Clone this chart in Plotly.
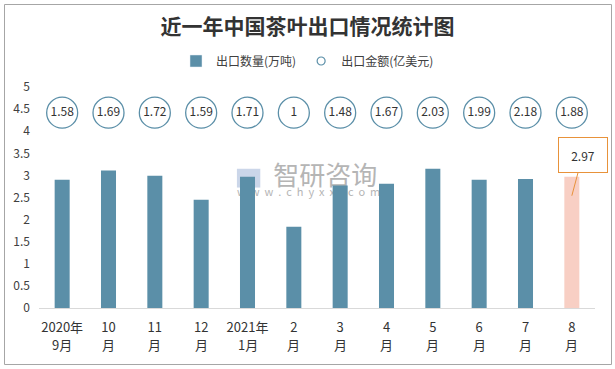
import plotly.graph_objects as go

cat_line1 = ["2020年", "10", "11", "12", "2021年", "2", "3", "4", "5", "6", "7", "8"]
cat_line2 = ["9月", "月", "月", "月", "1月", "月", "月", "月", "月", "月", "月", "月"]
volume = [2.90, 3.11, 2.99, 2.45, 2.97, 1.84, 2.77, 2.81, 3.15, 2.90, 2.92, 2.97]
amount = [1.58, 1.69, 1.72, 1.59, 1.71, 1, 1.48, 1.67, 2.03, 1.99, 2.18, 1.88]
y_ticks = [0, 0.5, 1, 1.5, 2, 2.5, 3, 3.5, 4, 4.5, 5]
bubble_row = 4.42

categories = [f"{a}|{b}" for a, b in zip(cat_line1, cat_line2)]

FONT = "Noto Sans CJK SC"
BLUE = "#5b8fa8"
PINK = "#f8cfc4"
ORANGE = "#e8923a"
TXT = "#404040"

bar_colors = [BLUE] * (len(volume) - 1) + [PINK]

fig = go.Figure()
fig.add_trace(go.Bar(
    x=categories, y=volume, name="出口数量(万吨)",
    marker=dict(color=bar_colors, line=dict(width=0)),
    showlegend=False,
))
fig.add_trace(go.Scatter(
    x=categories, y=[bubble_row] * len(amount), mode="markers+text",
    text=[str(v) for v in amount], textposition="middle center",
    textfont=dict(family=FONT, size=12, color="#333333"),
    marker=dict(symbol="circle", size=31, color="white",
                line=dict(color=BLUE, width=1.3)),
    showlegend=False, hoverinfo="skip",
))
# legend entries
fig.add_trace(go.Bar(x=[None], y=[None], name="出口数量(万吨)",
                     marker=dict(color=BLUE)))
fig.add_trace(go.Scatter(x=[None], y=[None], mode="markers", name="出口金额(亿美元)",
                         marker=dict(symbol="circle-open", size=8,
                                     color=BLUE, line=dict(width=1.2))))

# second line of the x labels
for c, t in zip(categories, cat_line2):
    fig.add_annotation(x=c, y=0, yref="y", text=t, showarrow=False,
                       yanchor="top", yshift=-25,
                       font=dict(family=FONT, size=13, color="#333333"))

fig.add_annotation(
    x=categories[-1], y=volume[-1], text=str(volume[-1]),
    showarrow=True, arrowhead=0, arrowwidth=1, arrowcolor=ORANGE,
    ax=11, ay=-41, yshift=-19,
    bordercolor=ORANGE, borderwidth=1, borderpad=2, bgcolor="white",
    width=44, height=30,
    font=dict(family=FONT, size=12, color="#333333"),
)

# watermark (behind bars)
fig.add_shape(type="rect", xref="paper", yref="paper",
              x0=0.39, x1=0.64, y0=0.55, y1=0.63, layer="below",
              line=dict(width=0), fillcolor="rgba(0,0,0,0)",
              label=dict(text="智研咨询", font=dict(family=FONT, size=26, color="#b5b5b5")))
fig.add_shape(type="rect", xref="paper", yref="paper",
              x0=0.33, x1=0.64, y0=0.49, y1=0.55, layer="below",
              line=dict(width=0), fillcolor="rgba(0,0,0,0)",
              label=dict(text="w  w  w  .  c  h  y  x  x  .  c  o  m",
                         font=dict(family=FONT, size=11, color="#b5b5b5")))
fig.add_shape(type="rect", xref="paper", yref="paper",
              x0=0.356, x1=0.398, y0=0.545, y1=0.63, layer="below",
              line=dict(width=0), fillcolor="rgba(160,180,215,0.55)")

# outer border
fig.add_shape(type="rect", xref="paper", yref="paper",
              x0=(4.5 - 39) / 556, x1=(611.5 - 39) / 556,
              y0=(308 - 364.5) / 221, y1=(308 - 4.5) / 221,
              line=dict(color="#a6a6a6", width=1), fillcolor="rgba(0,0,0,0)")

fig.update_layout(
    width=615, height=369,
    margin=dict(l=39, r=20, t=87, b=61, autoexpand=False),
    paper_bgcolor="white", plot_bgcolor="white",
    bargap=0.676,
    font=dict(family=FONT, size=12, color=TXT),
    title=dict(text="<b>近一年中国茶叶出口情况统计图</b>", x=0.5, xref="container",
               y=1 - 27 / 369, yref="container", yanchor="middle", xanchor="center",
               font=dict(family=FONT, size=21, color="#333333")),
    legend=dict(orientation="h", xref="container", yref="container",
                x=0.5, xanchor="center", y=1 - 61 / 369, yanchor="middle",
                font=dict(family=FONT, size=12, color=TXT), itemwidth=30,
                bgcolor="rgba(0,0,0,0)"),
    xaxis=dict(showgrid=False, showline=True, linecolor="#d9d9d9", linewidth=1,
               range=[-0.5, len(categories) - 0.5],
               ticks="", tickvals=categories, ticktext=cat_line1,
               tickfont=dict(family=FONT, size=13, color="#333333"),
               ticklabelstandoff=7, fixedrange=True, automargin=False),
    yaxis=dict(range=[0, 5], tickvals=y_ticks, ticktext=[f"{v:g}" for v in y_ticks],
               showgrid=False, zeroline=False, showline=False, ticks="",
               tickfont=dict(family=FONT, size=12, color=TXT),
               ticklabelstandoff=8, fixedrange=True, automargin=False),
)

fig.write_html("out.html", config={"displayModeBar": False},
               post_script="document.body.style.margin='0';")
